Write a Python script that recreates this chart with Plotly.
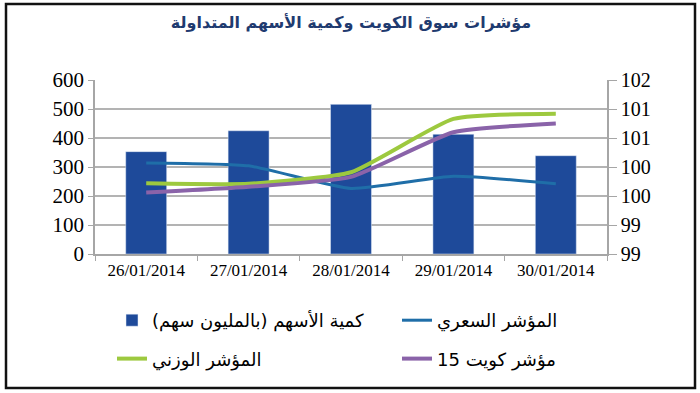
import plotly.graph_objects as go

dates = ["26/01/2014", "27/01/2014", "28/01/2014", "29/01/2014", "30/01/2014"]
volume = [353, 425, 516, 413, 339]          # كمية الأسهم (بالمليون سهم)
price_index = [100.57, 100.52, 100.13, 100.34, 100.21]   # المؤشر السعري
weighted_index = [100.22, 100.21, 100.41, 101.33, 101.42]  # المؤشر الوزني
kuwait15 = [100.06, 100.16, 100.33, 101.10, 101.25]       # مؤشر كويت 15

right_tickvals = [99, 99.5, 100, 100.5, 101, 101.5, 102]
right_ticktext = ["99", "99", "100", "100", "101", "101", "102"]
left_tickvals = [0, 100, 200, 300, 400, 500, 600]

title = "مؤشرات سوق الكويت وكمية الأسهم المتداولة"
names = ["كمية الأسهم (بالمليون سهم)", "المؤشر السعري", "المؤشر الوزني", "مؤشر كويت 15"]

W, H = 700, 393
L, R, T, B = 95, 93, 80, 139
pw, ph = W - L - R, H - T - B

def px(x):
    return (x - L) / pw

def py(y):
    return (H - B - y) / ph

serif = "Liberation Serif"

fig = go.Figure()
fig.add_trace(go.Bar(x=dates, y=volume, name=names[0], marker_color="#1E4A9A",
                     width=0.4, yaxis="y", legend="legend", legendgroup="a"))
fig.add_trace(go.Scatter(x=dates, y=price_index, name=names[1], mode="lines",
                         line=dict(color="#1F6EA8", width=3, shape="spline", smoothing=0.5),
                         yaxis="y2", legend="legend2", legendgroup="b"))
fig.add_trace(go.Scatter(x=dates, y=weighted_index, name=names[2], mode="lines",
                         line=dict(color="#9DC93F", width=4, shape="spline", smoothing=0.5),
                         yaxis="y2", legend="legend", legendgroup="c"))
fig.add_trace(go.Scatter(x=dates, y=kuwait15, name=names[3], mode="lines",
                         line=dict(color="#8A63A9", width=4, shape="spline", smoothing=0.5),
                         yaxis="y2", legend="legend2", legendgroup="d"))

legend_common = dict(orientation="v", xanchor="left", yanchor="top",
                     traceorder="grouped", tracegroupgap=12,
                     font=dict(family="DejaVu Sans, sans-serif", size=18, color="#000"),
                     bgcolor="rgba(0,0,0,0)", itemwidth=30)

fig.update_layout(
    width=W, height=H,
    margin=dict(l=L, r=R, t=T, b=B),
    paper_bgcolor="white", plot_bgcolor="white",
    title=dict(text="<b>" + title + "</b>", x=0.5, xanchor="center", xref="paper",
               y=1 - 22 / H, yanchor="middle",
               font=dict(family="DejaVu Sans, sans-serif", size=16, color="#1F3B70")),
    showlegend=True,
    legend=dict(x=px(112), y=py(302), **legend_common),
    legend2=dict(x=px(397), y=py(302), **legend_common),
    xaxis=dict(type="category", showgrid=False, showline=True, linecolor="#A6A6A6", linewidth=1.5,
               ticks="outside", tickson="boundaries", ticklen=5, tickcolor="#A6A6A6",
               tickfont=dict(family=serif, size=17, color="#000")),
    yaxis=dict(range=[0, 600], tickvals=left_tickvals, showgrid=True, gridcolor="#B3B3B3",
               gridwidth=1.5, showline=True, linecolor="#A6A6A6", linewidth=1.5,
               ticks="outside", ticklen=5, tickcolor="#A6A6A6", zeroline=False,
               tickfont=dict(family=serif, size=21, color="#000")),
    yaxis2=dict(range=[99, 102], overlaying="y", side="right", tickvals=right_tickvals,
                ticktext=right_ticktext, showgrid=False, showline=True, linecolor="#A6A6A6",
                linewidth=1.5, ticks="outside", ticklen=8, tickcolor="#A6A6A6", zeroline=False,
                tickfont=dict(family=serif, size=20, color="#000")),
    shapes=[dict(type="rect", xref="paper", yref="paper",
                 x0=px(6), x1=px(695), y0=py(388), y1=py(4),
                 line=dict(color="#111", width=2.5), fillcolor="rgba(0,0,0,0)", layer="below")],
)

fig.write_html("out.html", config={"displayModeBar": False},
               post_script="document.body.style.margin='0';document.body.style.padding='0';")
